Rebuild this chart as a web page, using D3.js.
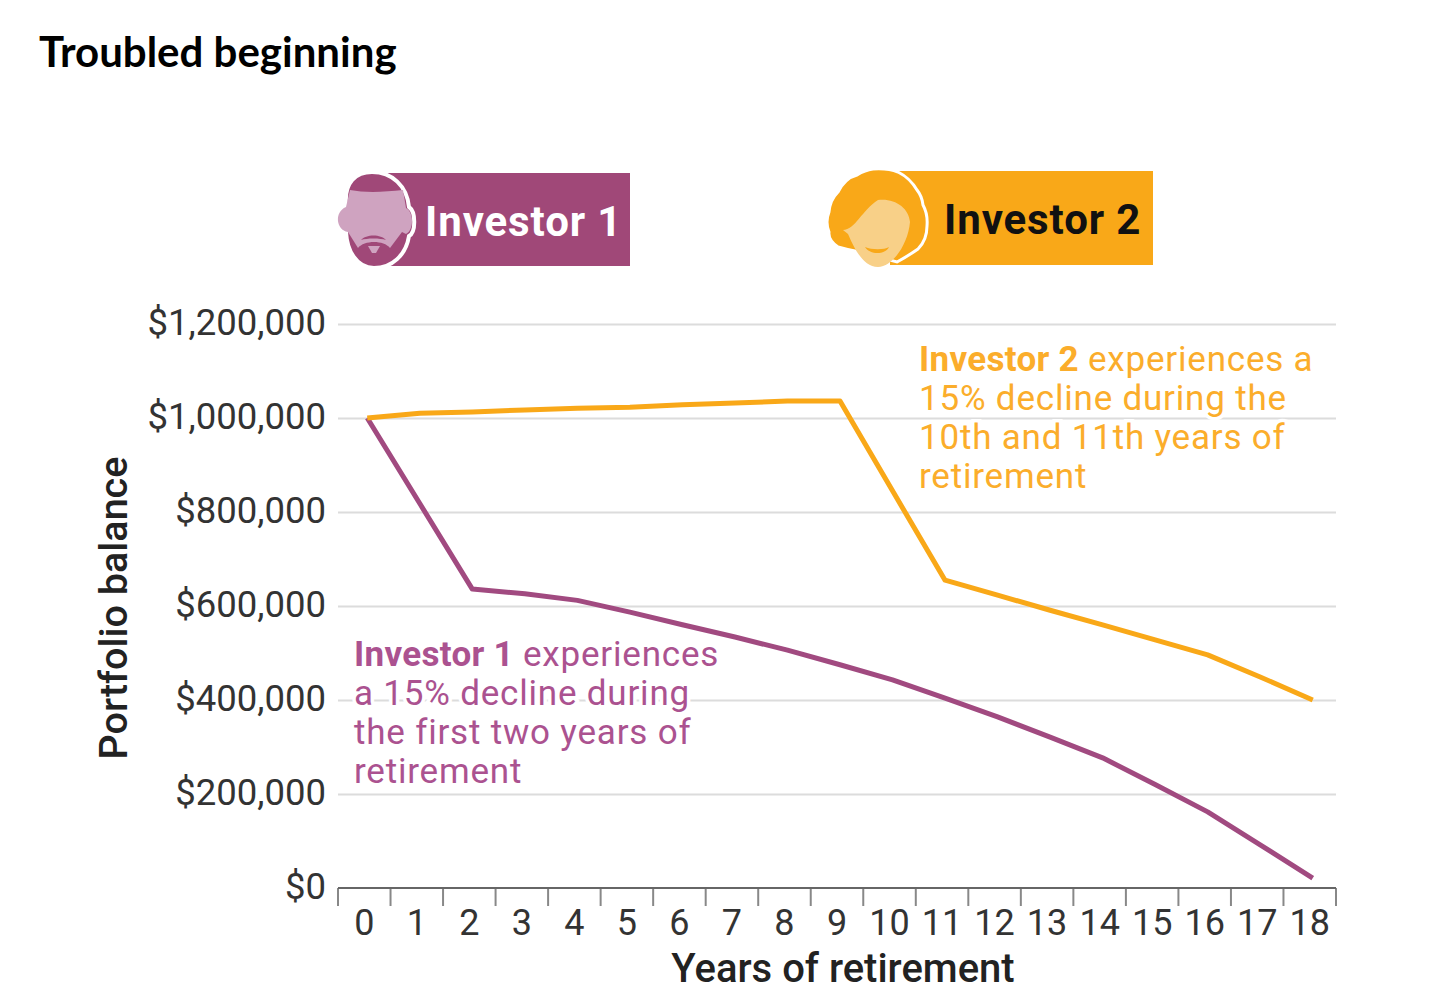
<!DOCTYPE html>
<html>
<head>
<meta charset="utf-8">
<script src="https://cdn.jsdelivr.net/npm/d3@7"></script>
<style>
  body { margin: 0; background: #fff; }
  text { font-family: Roboto, sans-serif; }
</style>
</head>
<body>
<svg id="chart" width="1431" height="999"></svg>
<script>
// values
var years = [0,1,2,3,4,5,6,7,8,9,10,11,12,13,14,15,16,17,18];
var investor1 = [1000000,818000,636000,626000,612000,587000,560000,534000,506000,475000,443000,404000,364000,321000,277000,220000,162000,92000,21000];
var investor2 = [1000000,1010000,1013000,1017000,1021000,1023000,1028000,1032000,1036000,1036000,845000,655000,623000,591000,560000,528000,496000,449000,400000];
var yTicks = [0,200000,400000,600000,800000,1000000,1200000];
var note1 = ["experiences", "a 15% decline during", "the first two years of", "retirement"];
var note2 = ["experiences a", "15% decline during the", "10th and 11th years of", "retirement"];

var purple = "#a14a80";
var orange = "#f9a818";

var svg = d3.select("#chart");

svg.append("text").attr("x", 39).attr("y", 67)
  .style("font-family", "Lato").style("font-weight", 700).style("font-size", "42px")
  .text("Troubled beginning");

// scales
var x = d3.scaleBand().domain(years).range([338, 1336]);
var y = d3.scaleLinear().domain([0, 1200000]).range([888, 324]);
var fmt = d3.format("$,");

// y axis and gridlines
var yAxis = svg.append("g").attr("transform", "translate(338,0)")
  .call(d3.axisLeft(y).tickValues(yTicks).tickFormat(fmt).tickSize(0).tickPadding(12));
yAxis.select(".domain").remove();
yAxis.selectAll("text").attr("dy", "0.28em").style("font-size", "36.5px").style("fill", "#333");
yAxis.selectAll("line").attr("x2", 998).attr("stroke", "#dcdcdc").attr("stroke-width", 2)
  .filter(d => d == 0).remove();

// x axis
var xAxis = svg.append("g").attr("transform", "translate(0,888)")
  .call(d3.axisBottom(x).tickSize(0).tickPadding(21));
xAxis.select(".domain").remove();
xAxis.selectAll("text").style("font-size", "36px").style("fill", "#333");
xAxis.selectAll("line").remove();
var edges = years.map(d => x(d)).concat([x.range()[1]]);
xAxis.selectAll("line.edge").data(edges).enter().append("line").attr("class", "edge")
  .attr("x1", d => d).attr("x2", d => d).attr("y1", 0).attr("y2", 18)
  .attr("stroke", "#888").attr("stroke-width", 2);
xAxis.append("line").attr("x1", 338).attr("x2", 1336).attr("stroke", "#666").attr("stroke-width", 2);

svg.append("text").attr("x", 843).attr("y", 982).attr("text-anchor", "middle")
  .style("font-size", "40px").style("font-weight", 500).style("fill", "#222")
  .text("Years of retirement");
svg.append("text").attr("transform", "translate(127,608) rotate(-90)").attr("text-anchor", "middle")
  .style("font-size", "39.5px").style("font-weight", 500).style("fill", "#222")
  .text("Portfolio balance");

// lines
var line = d3.line().x((d, i) => x(years[i]) + x.bandwidth() / 2 + 3).y(d => y(d));
[[investor1, purple], [investor2, orange]].forEach(function(s) {
  svg.append("path").attr("d", line(s[0])).attr("fill", "none")
    .attr("stroke", s[1]).attr("stroke-width", 5).attr("stroke-linejoin", "round");
});

// annotations
function note(lines, name, color, left, top) {
  var t = svg.append("text").attr("fill", color).style("font-size", "35px").style("letter-spacing", "0.8px")
    .attr("stroke", "#fff").attr("stroke-width", 7).attr("paint-order", "stroke");
  lines.forEach(function(l, i) {
    var row = t.append("tspan").attr("x", left).attr("y", top + 1 + i * 39);
    if (i == 0) {
      row.text(name + " ").style("font-weight", 700).style("letter-spacing", "0.3px");
      t.append("tspan").text(" " + l);
    } else {
      row.text(l);
    }
  });
}
note(note1, "Investor 1", "#ab5290", 354, 665);
note(note2, "Investor 2", "#fbad2b", 919, 370);

// legend tags
svg.append("rect").attr("x", 385).attr("y", 173).attr("width", 245).attr("height", 93).attr("fill", "#a04878");
svg.append("rect").attr("x", 890).attr("y", 171).attr("width", 263).attr("height", 94).attr("fill", orange);
svg.append("text").attr("x", 425).attr("y", 236).attr("fill", "#fff").style("font-size", "42px").style("font-weight", 700).style("letter-spacing", "0.9px").text("Investor 1");
svg.append("text").attr("x", 944).attr("y", 234).attr("fill", "#111").style("font-size", "42px").style("font-weight", 700).style("letter-spacing", "0.9px").text("Investor 2");

// investor 1 face
var f1 = svg.append("g");
f1.append("path").attr("fill", "#a04878").attr("stroke", "#fff").attr("stroke-width", 4)
  .attr("d", "M346,205 C344,182 356,172 372,172 C392,172 407,186 409,207 C416,212 416,232 409,236 C406,255 392,268 374,268 C356,268 347,250 346,232 Z");
f1.append("path").attr("fill", "#cfa3c0")
  .attr("d", "M350,190 C365,193 385,192 403,190 L406,208 C414,212 414,230 406,234 L402,232 L390,248 C384,240 364,240 358,248 L348,232 C336,230 334,212 346,207 Z");
f1.append("path").attr("fill", "#a04878")
  .attr("d", "M361,240 C366,234 381,234 386,240 C380,238 367,238 361,240 Z");
f1.append("path").attr("fill", "#cfa3c0").attr("d", "M368,246 L380,246 L376,253 L372,253 Z");

// investor 2 face
var f2 = svg.append("g");
f2.append("path").attr("fill", orange).attr("stroke", "#fff").attr("stroke-width", 3)
  .attr("d", "M873,169 Q888,168 898,172 Q910,178 917,190 Q922,196 923,205 Q928,214 927,226 Q927,240 918,249 Q908,256 897,262 L860,252 Q848,250 838,247 Q828,240 829,232 Q825,222 829,212 Q830,200 838,192 Q845,178 857,175 Q865,170 873,169 Z");
f2.append("path").attr("fill", "#f8d088")
  .attr("d", "M878,200 C895,198 909,208 910,222 C908,245 892,267 878,267 C862,267 853,245 848,234 L843,230 C855,230 862,210 878,200 Z");
f2.append("path").attr("fill", orange)
  .attr("d", "M865,247 C872,250 884,250 889,247 C885,255 870,255 865,247 Z");
</script>
</body>
</html>
